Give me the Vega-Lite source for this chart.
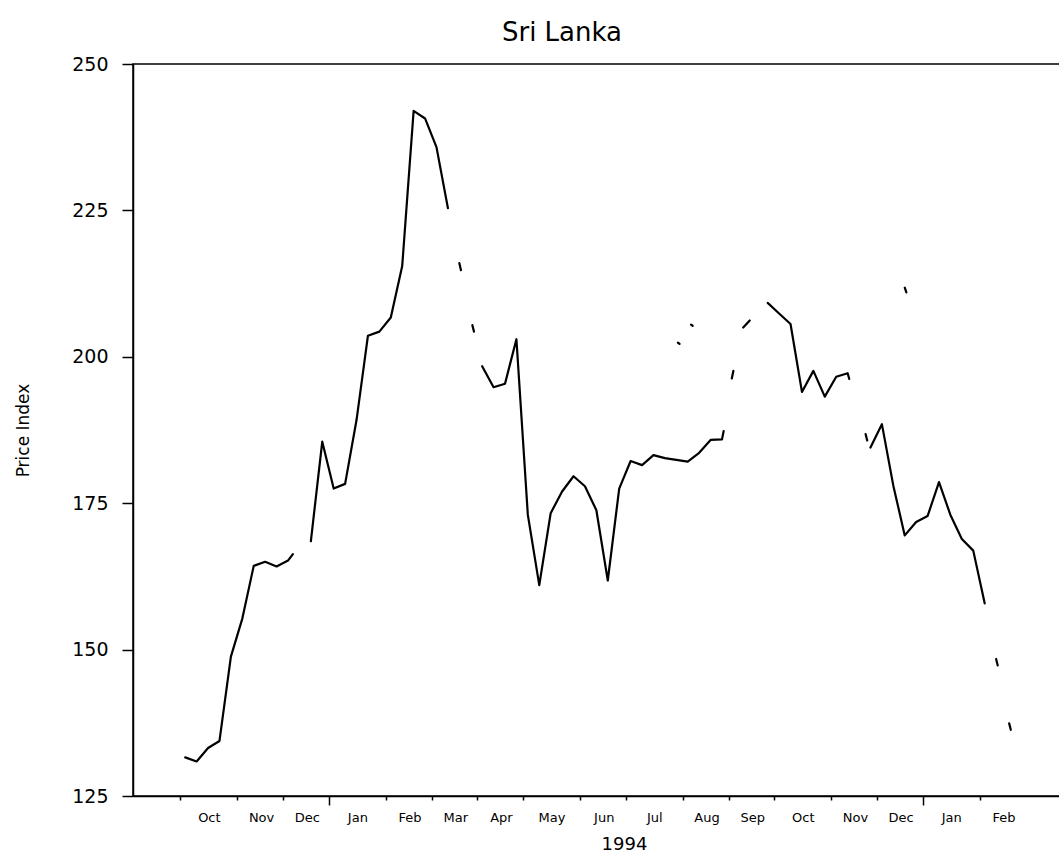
{
  "$schema": "https://vega.github.io/schema/vega-lite/v6.json",
  "autosize": {"type": "none"},
  "padding": {"left": 133, "top": 64, "right": 0, "bottom": 58},
  "width": 930,
  "height": 732,
  "background": "white",
  "title": {"text": "Sri Lanka", "fontSize": 26, "font": "DejaVu Sans", "fontWeight": "normal", "color": "black", "anchor": "middle", "dx": -36, "offset": 9},
  "config": {
    "view": {"stroke": "black", "strokeWidth": 1.5},
    "axis": {"labelFont": "DejaVu Sans", "titleFont": "DejaVu Sans", "labelColor": "black", "titleColor": "black", "domainColor": "black", "tickColor": "black", "grid": false, "titleFontWeight": "normal", "domainWidth": 1.5, "tickWidth": 1.5, "labelFlush": false, "labelOverlap": false}
  },
  "data": {"values": [
    {"date": "1993-10-06", "price": 131.6, "piece": 1},
    {"date": "1993-10-13", "price": 130.9, "piece": 1},
    {"date": "1993-10-20", "price": 133.2, "piece": 1},
    {"date": "1993-10-27", "price": 134.4, "piece": 1},
    {"date": "1993-11-03", "price": 148.8, "piece": 1},
    {"date": "1993-11-10", "price": 155.3, "piece": 1},
    {"date": "1993-11-17", "price": 164.3, "piece": 1},
    {"date": "1993-11-24", "price": 165.0, "piece": 1},
    {"date": "1993-12-01", "price": 164.2, "piece": 1},
    {"date": "1993-12-08", "price": 165.2, "piece": 1},
    {"date": "1993-12-11", "price": 166.3, "piece": 1},
    {"date": "1993-12-22", "price": 168.5, "piece": 2},
    {"date": "1993-12-29", "price": 185.5, "piece": 2},
    {"date": "1994-01-05", "price": 177.5, "piece": 2},
    {"date": "1994-01-12", "price": 178.3, "piece": 2},
    {"date": "1994-01-19", "price": 189.2, "piece": 2},
    {"date": "1994-01-26", "price": 203.6, "piece": 2},
    {"date": "1994-02-02", "price": 204.3, "piece": 2},
    {"date": "1994-02-09", "price": 206.7, "piece": 2},
    {"date": "1994-02-16", "price": 215.5, "piece": 2},
    {"date": "1994-02-23", "price": 242.0, "piece": 2},
    {"date": "1994-03-02", "price": 240.7, "piece": 2},
    {"date": "1994-03-09", "price": 235.8, "piece": 2},
    {"date": "1994-03-16", "price": 225.4, "piece": 2},
    {"date": "1994-03-23", "price": 216.0, "piece": 3},
    {"date": "1994-03-24", "price": 214.8, "piece": 3},
    {"date": "1994-03-31", "price": 205.4, "piece": 4},
    {"date": "1994-04-01", "price": 204.3, "piece": 4},
    {"date": "1994-04-06", "price": 198.4, "piece": 5},
    {"date": "1994-04-13", "price": 194.8, "piece": 5},
    {"date": "1994-04-20", "price": 195.4, "piece": 5},
    {"date": "1994-04-27", "price": 203.0, "piece": 5},
    {"date": "1994-05-04", "price": 173.0, "piece": 5},
    {"date": "1994-05-11", "price": 161.0, "piece": 5},
    {"date": "1994-05-18", "price": 173.3, "piece": 5},
    {"date": "1994-05-25", "price": 177.0, "piece": 5},
    {"date": "1994-06-01", "price": 179.6, "piece": 5},
    {"date": "1994-06-08", "price": 177.9, "piece": 5},
    {"date": "1994-06-15", "price": 173.8, "piece": 5},
    {"date": "1994-06-22", "price": 161.8, "piece": 5},
    {"date": "1994-06-29", "price": 177.5, "piece": 5},
    {"date": "1994-07-06", "price": 182.2, "piece": 5},
    {"date": "1994-07-13", "price": 181.5, "piece": 5},
    {"date": "1994-07-20", "price": 183.2, "piece": 5},
    {"date": "1994-07-27", "price": 182.7, "piece": 5},
    {"date": "1994-08-03", "price": 182.4, "piece": 5},
    {"date": "1994-08-10", "price": 182.1, "piece": 5},
    {"date": "1994-08-17", "price": 183.6, "piece": 5},
    {"date": "1994-08-24", "price": 185.8, "piece": 5},
    {"date": "1994-08-31", "price": 185.9, "piece": 5},
    {"date": "1994-09-01", "price": 187.3, "piece": 5},
    {"date": "1994-09-06", "price": 196.3, "piece": 6},
    {"date": "1994-09-07", "price": 197.6, "piece": 6},
    {"date": "1994-09-13", "price": 205.0, "piece": 7},
    {"date": "1994-09-17", "price": 206.2, "piece": 7},
    {"date": "1994-09-28", "price": 209.2, "piece": 8},
    {"date": "1994-10-05", "price": 207.4, "piece": 8},
    {"date": "1994-10-12", "price": 205.6, "piece": 8},
    {"date": "1994-10-19", "price": 194.0, "piece": 8},
    {"date": "1994-10-26", "price": 197.6, "piece": 8},
    {"date": "1994-11-02", "price": 193.2, "piece": 8},
    {"date": "1994-11-09", "price": 196.6, "piece": 8},
    {"date": "1994-11-16", "price": 197.2, "piece": 8},
    {"date": "1994-11-17", "price": 196.2, "piece": 8},
    {"date": "1994-11-27", "price": 186.8, "piece": 9},
    {"date": "1994-11-28", "price": 185.7, "piece": 9},
    {"date": "1994-11-30", "price": 184.5, "piece": 10},
    {"date": "1994-12-07", "price": 188.5, "piece": 10},
    {"date": "1994-12-14", "price": 178.0, "piece": 10},
    {"date": "1994-12-21", "price": 169.5, "piece": 10},
    {"date": "1994-12-28", "price": 171.8, "piece": 10},
    {"date": "1995-01-04", "price": 172.8, "piece": 10},
    {"date": "1995-01-11", "price": 178.6, "piece": 10},
    {"date": "1995-01-18", "price": 173.0, "piece": 10},
    {"date": "1995-01-25", "price": 168.9, "piece": 10},
    {"date": "1995-02-01", "price": 166.9, "piece": 10},
    {"date": "1995-02-08", "price": 157.9, "piece": 10},
    {"date": "1995-02-15", "price": 148.4, "piece": 11},
    {"date": "1995-02-16", "price": 147.3, "piece": 11},
    {"date": "1995-02-23", "price": 137.4, "piece": 12},
    {"date": "1995-02-24", "price": 136.3, "piece": 12},
    {"date": "1994-08-04", "price": 202.4, "piece": 13},
    {"date": "1994-08-05", "price": 202.2, "piece": 13},
    {"date": "1994-08-12", "price": 205.5, "piece": 14},
    {"date": "1994-08-13", "price": 205.3, "piece": 14},
    {"date": "1994-12-21", "price": 211.8, "piece": 15},
    {"date": "1994-12-22", "price": 211.0, "piece": 15}
  ]},
  "mark": {"type": "line", "color": "black", "strokeWidth": 2.2, "strokeJoin": "round", "strokeCap": "round"},
  "encoding": {
    "x": {
      "field": "date", "type": "temporal",
      "scale": {"type": "utc", "domain": [{"year": 1993, "month": 9, "date": 4, "utc": true}, {"year": 1995, "month": 3, "date": 28, "utc": true}]},
      "axis": {
        "values": [
          {"year": 1993, "month": 10, "date": 3, "utc": true},
          {"year": 1993, "month": 11, "date": 7, "utc": true},
          {"year": 1993, "month": 12, "date": 5, "utc": true},
          {"year": 1994, "month": 1, "date": 2, "utc": true},
          {"year": 1994, "month": 2, "date": 6, "utc": true},
          {"year": 1994, "month": 3, "date": 6, "utc": true},
          {"year": 1994, "month": 4, "date": 3, "utc": true},
          {"year": 1994, "month": 5, "date": 1, "utc": true},
          {"year": 1994, "month": 6, "date": 5, "utc": true},
          {"year": 1994, "month": 7, "date": 3, "utc": true},
          {"year": 1994, "month": 8, "date": 7, "utc": true},
          {"year": 1994, "month": 9, "date": 4, "utc": true},
          {"year": 1994, "month": 10, "date": 2, "utc": true},
          {"year": 1994, "month": 11, "date": 6, "utc": true},
          {"year": 1994, "month": 12, "date": 4, "utc": true},
          {"year": 1995, "month": 1, "date": 1, "utc": true},
          {"year": 1995, "month": 2, "date": 5, "utc": true},
          {"year": 1993, "month": 10, "date": 20, "hours": 12, "utc": true},
          {"year": 1993, "month": 11, "date": 21, "hours": 12, "utc": true},
          {"year": 1993, "month": 12, "date": 19, "hours": 12, "utc": true},
          {"year": 1994, "month": 1, "date": 19, "hours": 12, "utc": true},
          {"year": 1994, "month": 2, "date": 20, "hours": 12, "utc": true},
          {"year": 1994, "month": 3, "date": 20, "hours": 12, "utc": true},
          {"year": 1994, "month": 4, "date": 17, "hours": 12, "utc": true},
          {"year": 1994, "month": 5, "date": 18, "hours": 12, "utc": true},
          {"year": 1994, "month": 6, "date": 19, "hours": 12, "utc": true},
          {"year": 1994, "month": 7, "date": 20, "hours": 12, "utc": true},
          {"year": 1994, "month": 8, "date": 21, "hours": 12, "utc": true},
          {"year": 1994, "month": 9, "date": 18, "hours": 12, "utc": true},
          {"year": 1994, "month": 10, "date": 19, "hours": 12, "utc": true},
          {"year": 1994, "month": 11, "date": 20, "hours": 12, "utc": true},
          {"year": 1994, "month": 12, "date": 18, "hours": 12, "utc": true},
          {"year": 1995, "month": 1, "date": 18, "hours": 12, "utc": true},
          {"year": 1995, "month": 2, "date": 19, "hours": 12, "utc": true}
        ],
        "labelExpr": "utchours(datum.value) == 12 ? utcFormat(datum.value, '%b') : ''",
        "tickOpacity": {"condition": {"test": "utchours(datum.value) == 12", "value": 0}, "value": 1},
        "tickSize": {"condition": {"test": "utchours(datum.value) == 0 && utcmonth(datum.value) == 0", "value": 9}, "value": 4},
        "labelFontSize": 13,
        "labelAngle": 0,
        "labelPadding": 11,
        "title": "1994",
        "titleFontSize": 18,
        "titleX": 491,
        "titleAlign": "center",
        "titlePadding": 6
      }
    },
    "y": {
      "field": "price", "type": "quantitative",
      "scale": {"domain": [125, 250], "nice": false, "zero": false},
      "axis": {"values": [125, 150, 175, 200, 225, 250], "tickSize": 11, "labelFontSize": 19, "labelPadding": 14, "title": "Price Index", "titleFontSize": 17, "titlePadding": 39}
    },
    "detail": {"field": "piece", "type": "nominal"}
  }
}
